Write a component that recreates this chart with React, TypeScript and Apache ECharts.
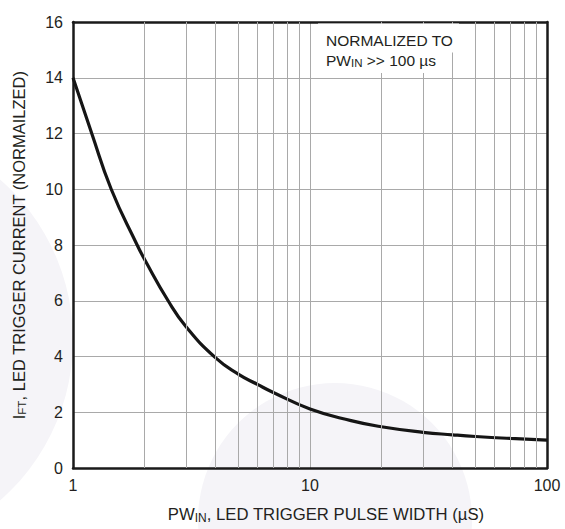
import React, { useEffect, useRef } from "react";
import * as echarts from "echarts";

const pulseWidth = [1, 1.2, 1.45, 1.865, 2, 2.52, 3, 4, 5, 6, 7, 10, 14.9, 20, 30, 40, 50, 70, 100];
const triggerCurrent = [14, 12, 10, 8, 7.5, 6, 5.07, 3.95, 3.36, 3.0, 2.71, 2.12, 1.7, 1.48, 1.28, 1.19, 1.13, 1.06, 1.0];
const minorGridX = [2, 3, 4, 5, 6, 7, 8, 9, 20, 30, 40, 50, 60, 70, 80, 90];
const yTicks = { min: 0, max: 16, interval: 2 };
const xRange = { min: 1, max: 100 };

const FONT = '"Liberation Sans", Arial, Helvetica, sans-serif';
const TXT = "#231f20";
const GRIDC = "#a9a9a9";
const BG_SHAPE = "#f5f4f8";

export default function App() {
  const ref = useRef<HTMLDivElement>(null);
  useEffect(() => {
    document.body.style.margin = "0";
    const chart = echarts.init(ref.current!, null, { renderer: "svg" });
    const curve = pulseWidth.map((x, i) => [x, triggerCurrent[i]]);
    const option: any = {
      animation: false,
      backgroundColor: "#ffffff",
      grid: { left: 73, top: 22, right: 18, bottom: 56, containLabel: false },
      xAxis: [
        {
          type: "log",
          logBase: 10,
          min: xRange.min,
          max: xRange.max,
          name: "{n|PW}{s|IN}{n|, LED TRIGGER PULSE WIDTH (µS)}",
          nameLocation: "middle",
          nameGap: 37,
          nameTextStyle: {
            padding: [0, 0, 0, 32],
            rich: {
              n: { fontFamily: FONT, fontSize: 16.7, color: TXT, lineHeight: 19 },
              s: { fontFamily: FONT, fontSize: 12, color: TXT, lineHeight: 11, verticalAlign: "bottom" },
            },
          },
          axisLine: { show: true, lineStyle: { color: "#1a1a1a", width: 2.5 } },
          axisTick: { show: false },
          axisLabel: { fontFamily: FONT, fontSize: 16, color: TXT, margin: 9 },
          splitLine: { show: true, showMinLine: false, showMaxLine: false, lineStyle: { color: GRIDC, width: 1 } },
        },
        {
          type: "log",
          logBase: 10,
          min: xRange.min,
          max: xRange.max,
          position: "top",
          axisLine: { show: true, onZero: false, lineStyle: { color: "#1a1a1a", width: 2.5 } },
          axisTick: { show: false },
          axisLabel: { show: false },
          splitLine: { show: false },
        },
      ],
      yAxis: [
        {
          type: "value",
          min: yTicks.min,
          max: yTicks.max,
          interval: yTicks.interval,
          name: "{n|I}{s|FT}{n|, LED TRIGGER CURRENT (NORMAILZED)}",
          nameLocation: "middle",
          nameGap: 45,
          nameTextStyle: {
            rich: {
              n: { fontFamily: FONT, fontSize: 16.5, color: TXT, lineHeight: 19 },
              s: { fontFamily: FONT, fontSize: 11.5, color: TXT, lineHeight: 11, verticalAlign: "bottom" },
            },
          },
          axisLine: { show: true, onZero: false, lineStyle: { color: "#1a1a1a", width: 2.5 } },
          axisTick: { show: false },
          axisLabel: { fontFamily: FONT, fontSize: 16, color: TXT, margin: 10 },
          splitLine: { show: true, showMinLine: false, showMaxLine: false, lineStyle: { color: GRIDC, width: 1 } },
        },
        {
          type: "value",
          min: yTicks.min,
          max: yTicks.max,
          interval: yTicks.interval,
          position: "right",
          axisLine: { show: true, onZero: false, lineStyle: { color: "#1a1a1a", width: 2.5 } },
          axisTick: { show: false },
          axisLabel: { show: false },
          splitLine: { show: false },
        },
      ],
      series: [
        {
          type: "line",
          z: 1,
          data: curve,
          symbol: "none",
          silent: true,
          lineStyle: { width: 0, opacity: 0 },
          markLine: {
            silent: true,
            symbol: ["none", "none"],
            label: { show: false },
            lineStyle: { color: GRIDC, width: 1, type: "solid" },
            data: minorGridX.map((v) => ({ xAxis: v })),
          },
        },
        {
          type: "line",
          z: 3,
          data: curve,
          symbol: "none",
          smooth: 0.5,
          lineStyle: { color: "#151515", width: 3.2 },
        },
      ],
      graphic: [
        { type: "circle", z: -5, silent: true, shape: { cx: -140, cy: 340, r: 213 }, style: { fill: BG_SHAPE } },
        { type: "circle", z: -5, silent: true, shape: { cx: 335, cy: 520, r: 137 }, style: { fill: BG_SHAPE } },
        { type: "rect", z: 10, silent: true, shape: { x: 318, y: 23.5, width: 141, height: 29 }, style: { fill: "#ffffff" } },
        { type: "rect", z: 10, silent: true, shape: { x: 318, y: 52, width: 124, height: 21 }, style: { fill: "#ffffff" } },
        {
          type: "text",
          z: 11,
          silent: true,
          style: {
            x: 326,
            y: 40,
            text: "NORMALIZED TO",
            fill: TXT,
            font: `15.5px ${FONT}`,
            align: "left",
            verticalAlign: "middle",
          },
        },
        {
          type: "text",
          z: 11,
          silent: true,
          style: {
            x: 326,
            y: 60,
            text: "{n|PW}{s|IN}{n| >> 100 µs}",
            align: "left",
            verticalAlign: "middle",
            rich: {
              n: { fontFamily: FONT, fontSize: 15.5, fill: TXT, lineHeight: 18 },
              s: { fontFamily: FONT, fontSize: 11.5, fill: TXT, lineHeight: 11, verticalAlign: "bottom" },
            },
          },
        },
      ],
    };
    chart.setOption(option);
    return () => chart.dispose();
  }, []);
  return <div ref={ref} style={{ width: 565, height: 529 }} />;
}
